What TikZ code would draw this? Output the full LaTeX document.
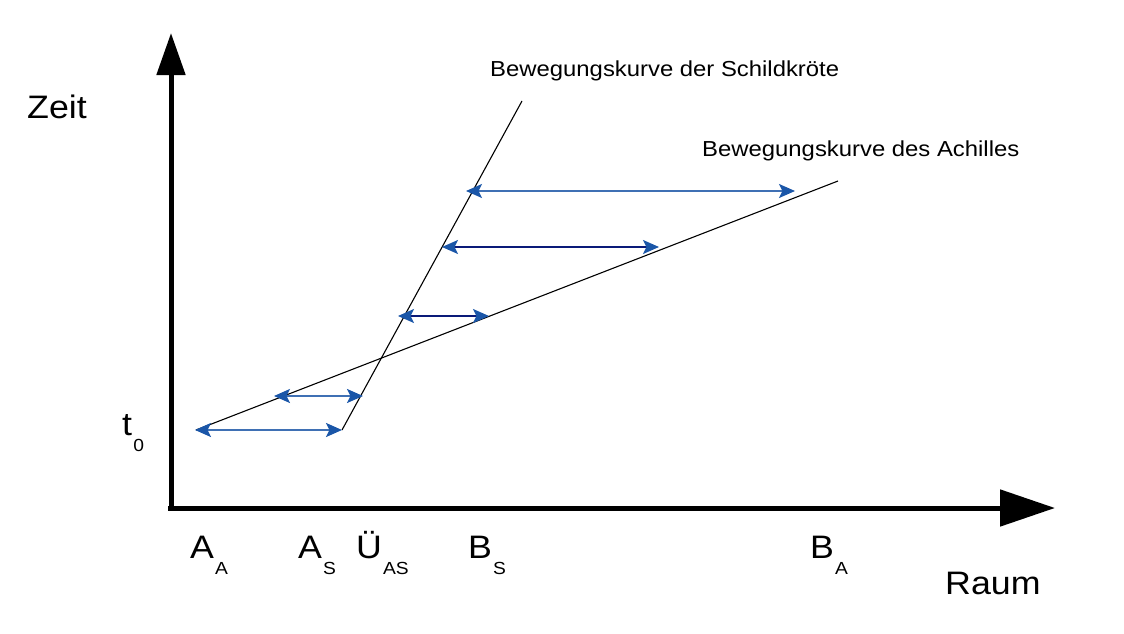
\documentclass[tikz,border=0pt]{standalone}
\usepackage{fontspec}
\setmainfont{Liberation Sans}
\usetikzlibrary{arrows.meta}
\definecolor{tipblue}{HTML}{1A56A8}
\definecolor{lineblue}{HTML}{3F70B4}
\definecolor{navyline}{HTML}{0A1A78}
\newcommand{\bigfnt}{\fontsize{32.5}{36}\selectfont}
\newcommand{\subfnt}{\fontsize{17.5}{20}\selectfont}
\newcommand{\lblfnt}{\fontsize{21.7}{24}\selectfont}
\newcommand{\withsub}[2]{{\bigfnt #1}\kern1pt\raisebox{-16pt}{\subfnt #2}}
\tikzset{
  axisline/.style={line width=5pt},
  curve/.style={line width=1.1pt, black},
  distarrow/.style={line width=1.6pt, {Stealth[length=16pt,width=14pt,inset=3.5pt,color=tipblue,fill=tipblue]}-{Stealth[length=16pt,width=14pt,inset=3.5pt,color=tipblue,fill=tipblue]}},
  txt/.style={inner sep=0pt, anchor=base west, xscale=1.1},
}
\begin{document}
\begin{tikzpicture}[x=1pt,y=-1pt]
\useasboundingbox[fill=white] (0,0) rectangle (1124,634);
% axes
\coordinate (Ytop) at (171,33);
\coordinate (Xend) at (1055,508);
\coordinate (Ostart) at (168,508);
\coordinate (Ybot) at (171,511);
\draw[axisline, -{Triangle[length=42pt,width=28pt]}] (Ybot) -- (Ytop);
\draw[axisline, -{Triangle[length=55pt,width=36pt]}] (Ostart) -- (Xend);
% curves
\coordinate (AA) at (196,430);
\coordinate (AchEnd) at (838,181);
\coordinate (AS) at (342,430);
\coordinate (SchEnd) at (522,101);
\draw[curve] (AA) -- (AchEnd);
\draw[curve] (AS) -- (SchEnd);
% distance arrows
\coordinate (a1l) at (195,430); \coordinate (a1r) at (342,430);
\coordinate (a2l) at (274,396); \coordinate (a2r) at (363,396);
\coordinate (a3l) at (398,316); \coordinate (a3r) at (489,316);
\coordinate (a4l) at (442,247); \coordinate (a4r) at (659,247);
\coordinate (a5l) at (466,191); \coordinate (a5r) at (795,191);
\draw[distarrow, lineblue, line width=2.2pt] (a1l) -- (a1r);
\draw[distarrow, lineblue, line width=2.2pt] (a2l) -- (a2r);
\draw[distarrow, navyline] (a3l) -- (a3r);
\draw[distarrow, navyline] (a4l) -- (a4r);
\draw[distarrow, lineblue] (a5l) -- (a5r);
% labels
\node[txt] (zeit) at (27,118) {\bigfnt Zeit};
\node[txt] (raum) at (945,594) {\bigfnt Raum};
\node[txt] (t0) at (122,435) {\withsub{t}{0}};
\node[txt] (lAA) at (190,558) {\withsub{A}{A}};
\node[txt] (lAS) at (298,558) {\withsub{A}{S}};
\node[txt] (lUAS) at (356,558) {\withsub{Ü}{AS}};
\node[txt] (lBS) at (468,558) {\withsub{B}{S}};
\node[txt] (lBA) at (810,558) {\withsub{B}{A}};
\node[txt] (schild) at (490,77) {\lblfnt Bewegungskurve der Schildkröte};
\node[txt] (achil) at (702,156) {\lblfnt Bewegungskurve des Achilles};
\end{tikzpicture}
\end{document}
